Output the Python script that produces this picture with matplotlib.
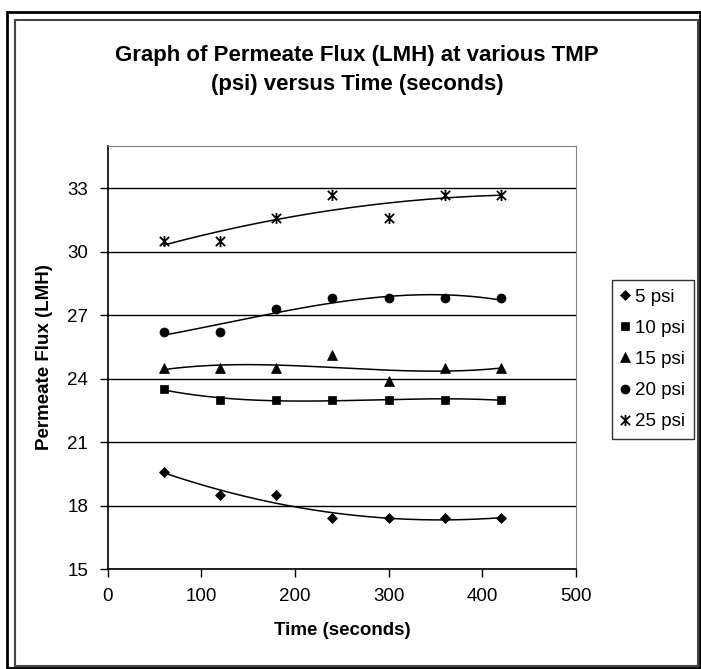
# Permeate flux vs time at various TMP, with polynomial trendlines

import numpy as np
import matplotlib
matplotlib.use("Agg")
import matplotlib.pyplot as plt
from matplotlib.patches import Rectangle
from matplotlib.path import Path

plt.rcParams["font.family"] = ["Liberation Sans", "DejaVu Sans"]

# data
time_s = [60, 120, 180, 240, 300, 360, 420]
flux_5 = [19.6, 18.5, 18.5, 17.4, 17.4, 17.4, 17.4]
flux_10 = [23.5, 23.0, 23.0, 23.0, 23.0, 23.0, 23.0]
flux_15 = [24.5, 24.5, 24.5, 25.1, 23.9, 24.5, 24.5]
flux_20 = [26.2, 26.2, 27.3, 27.8, 27.8, 27.8, 27.8]
flux_25 = [30.5, 30.5, 31.6, 32.7, 31.6, 32.7, 32.7]
labels = ["5 psi", "10 psi", "15 psi", "20 psi", "25 psi"]
y_ticks = [15, 18, 21, 24, 27, 30, 33]
x_ticks = [0, 100, 200, 300, 400, 500]

# asterisk marker: an X with a vertical bar
star = Path(
    [(-1, -1), (1, 1), (-1, 1), (1, -1), (0, -1.2), (0, 1.2)],
    [Path.MOVETO, Path.LINETO, Path.MOVETO, Path.LINETO, Path.MOVETO, Path.LINETO],
)

series = [flux_5, flux_10, flux_15, flux_20, flux_25]
markers = ["D", "s", "^", "o", star]
sizes = [5.5, 6, 7, 6.5, 8]

W, H = 701, 669
fig = plt.figure(figsize=(W / 100, H / 100), dpi=100)
ax = fig.add_axes([107.7 / W, 1 - 569 / H, (576 - 107.7) / W, (569 - 146) / H])

t = np.array(time_s, dtype=float)
t_fit = np.linspace(60, 420, 200)

for vals, m, ms, lab in zip(series, markers, sizes, labels):
    # trendline like the spreadsheet's polynomial fit
    coef = np.polyfit(t, vals, 3)
    ax.plot(t_fit, np.polyval(coef, t_fit), color="black", lw=1.1, zorder=2)
    mew = 1.3 if m is star else 0.5
    ax.plot(time_s, vals, linestyle="none", marker=m, markersize=ms,
            color="black", markeredgewidth=mew, label=lab, zorder=3)

ax.set_xlim(0, 500)
ax.set_ylim(15, 35)
ax.set_xticks(x_ticks)
ax.set_yticks(y_ticks)
ax.tick_params(labelsize=13.5, direction="out", length=6, width=1, pad=8, colors="black")
ax.grid(axis="y", color="black", linewidth=1)
ax.set_axisbelow(True)

for side in ["top", "right"]:
    ax.spines[side].set_color("#808080")
for side in ["left", "bottom"]:
    ax.spines[side].set_color("black")
    ax.spines[side].set_linewidth(1.2)

ax.set_xlabel("Time (seconds)", fontsize=13.5, fontweight="bold", labelpad=12)
ax.set_ylabel("Permeate Flux (LMH)", fontsize=13.5, fontweight="bold", labelpad=10)

fig.text(357 / W, 1 - 70 / H, "Graph of Permeate Flux (LMH) at various TMP\n(psi) versus Time (seconds)",
         ha="center", va="center", fontsize=16, fontweight="bold", linespacing=1.55)

leg = fig.legend(loc="upper left", bbox_to_anchor=(612 / W, 1 - 280 / H),
                 fontsize=13.5, frameon=True, fancybox=False, edgecolor="black",
                 handlelength=0.5, handletextpad=0.3, labelspacing=0.75,
                 borderpad=0.45, borderaxespad=0)
leg.get_frame().set_linewidth(1)

# chart area border and outer border
fig.patches.append(Rectangle((15 / W, 1 - 666 / H), (698 - 15) / W, (666 - 20) / H,
                             transform=fig.transFigure, fill=False,
                             edgecolor="#444444", linewidth=1.5))
fig.patches.append(Rectangle((7 / W, 1 - 668 / H), (700 - 7) / W, (668 - 12) / H,
                             transform=fig.transFigure, fill=False,
                             edgecolor="black", linewidth=2))

fig.savefig("out.png", dpi=100)
plt.close(fig)
